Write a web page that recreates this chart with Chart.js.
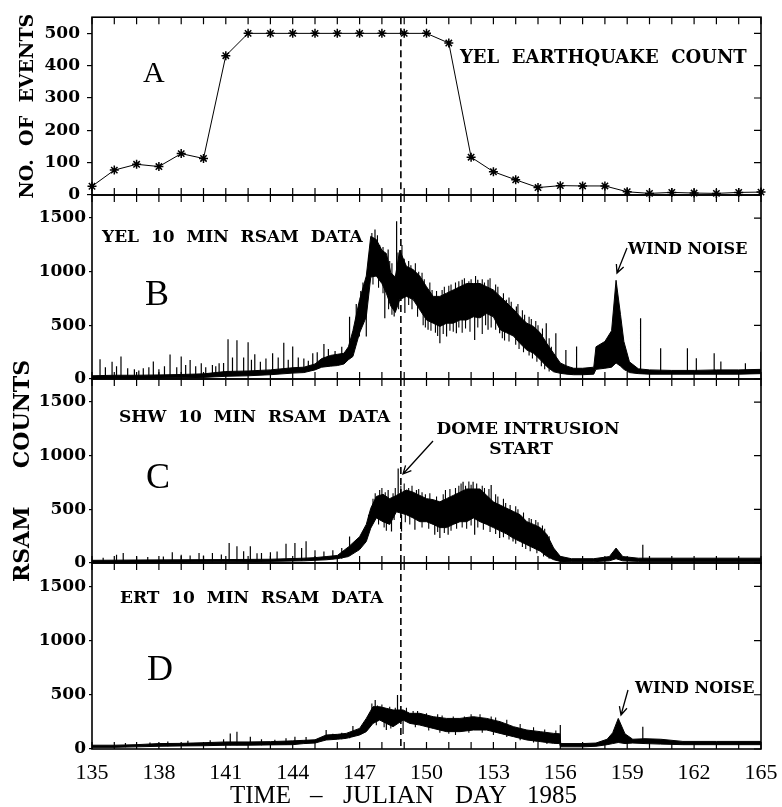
<!DOCTYPE html>
<html>
<head>
<meta charset="utf-8">
<title>YEL earthquake count and RSAM data, May-June 1985</title>
<script src="https://cdn.jsdelivr.net/npm/chart.js@4.4.0/dist/chart.umd.min.js"></script>
<style>
  body { margin: 0; background: #fff; }
  #wrap { position: relative; width: 782px; height: 807px; }
  #wrap canvas { position: absolute; left: 0; top: 0; }
</style>
</head>
<body>
<div id="wrap">
  <canvas id="panelA" width="782" height="807"></canvas>
  <canvas id="panelB" width="782" height="807"></canvas>
  <canvas id="panelC" width="782" height="807"></canvas>
  <canvas id="panelD" width="782" height="807"></canvas>
</div>
<script>
// julian day of the dome intrusion start (dashed line)
const DOME_START = 148.85;

const dayLabels = [135, 138, 141, 144, 147, 150, 153, 156, 159, 162, 165];
const countTicks = [0, 100, 200, 300, 400, 500];
const rsamTicks = [0, 500, 1000, 1500];

// A - YEL daily earthquake count
const countDays = [135, 136, 137, 138, 139, 140, 141, 142, 143, 144, 145, 146, 147, 148, 149, 150,
                   151, 152, 153, 154, 155, 156, 157, 158, 159, 160, 161, 162, 163, 164, 165];
const countValues = [27, 77, 95, 88, 128, 113, 431, 500, 500, 500, 500, 500, 500, 500, 500, 500,
                     470, 117, 72, 47, 23, 29, 28, 28, 10, 5, 8, 6, 5, 8, 9];

// B - YEL 10 min RSAM, read as a low / high band
const yelDays = [135, 136, 137, 138, 139, 140, 141, 142, 143, 144,
                 144.5, 145, 145.3, 145.7, 146, 146.3, 146.5, 146.7,
                 147, 147.3, 147.5, 147.75, 148, 148.2, 148.4, 148.6, 148.8,
                 149.1, 149.4, 149.7, 150, 150.3, 150.6, 150.9, 151.2, 151.5, 151.8,
                 152.1, 152.4, 152.7, 153, 153.3, 153.6, 153.9, 154.2, 154.5, 154.8,
                 155.1, 155.4, 155.7, 156, 156.3, 156.6, 157, 157.5,
                 157.6, 158, 158.3, 158.5, 158.7, 158.85, 159.1, 159.5,
                 160, 161, 162, 163, 164, 165];
const yelLow = [5, 8, 8, 10, 12, 15, 25, 30, 40, 55,
                60, 85, 110, 120, 125, 140, 180, 210,
                430, 580, 950, 960, 890, 800, 680, 620, 740,
                770, 740, 645, 550, 520, 490, 520, 520, 550, 550,
                580, 570, 610, 580, 460, 430, 400, 330, 270, 240,
                180, 115, 67, 53, 45, 40, 40, 45,
                90, 100, 110, 150, 120, 90, 60, 50,
                45, 45, 45, 45, 45, 50];
const yelHigh = [30, 35, 35, 38, 42, 48, 70, 75, 85, 105,
                 110, 140, 190, 220, 230, 240, 300, 450,
                 740, 960, 1330, 1300, 1200, 1170, 990, 950, 1200,
                 1050, 1020, 960, 860, 770, 770, 800, 830, 860, 890,
                 890, 890, 860, 830, 770, 710, 650, 580, 520, 490,
                 430, 330, 240, 150, 120, 100, 100, 110,
                 300, 350, 450, 920, 600, 350, 160, 95,
                 85, 80, 80, 85, 85, 90];
// single 10 min spikes: day, from, to
const yelSpikeDays = [135.36, 135.6, 135.9, 136.1, 136.3, 136.6, 136.9, 137.1, 137.3, 137.55,
                      137.75, 138.0, 138.25, 138.5, 138.8, 139.0, 139.2, 139.4, 139.65, 139.9,
                      140.1, 140.4, 140.55, 140.7, 140.9, 141.1, 141.3, 141.5, 141.8, 142.0,
                      142.15, 142.3, 142.55, 142.8, 143.1, 143.35, 143.6, 143.8, 144.0, 144.25,
                      144.5, 144.7, 144.9, 145.1, 145.4, 145.6, 145.9, 146.2, 146.55, 146.85,
                      147.69, 148.28, 148.66, 151.6, 152.3, 152.76, 153.58, 154.03, 155.37, 155.8,
                      146.99, 147.3, 148.13, 148.55, 149.03, 150.07, 150.6, 150.9, 151.34, 152.16,
                      152.76, 153.28, 153.88,
                      156.25, 156.73, 159.6, 160.5, 161.7, 162.1, 162.9, 163.2, 164.3, 165.0];
const yelSpikeLow = [15, 15, 18, 15, 18, 18, 18, 18, 20, 20,
                     20, 20, 22, 22, 22, 25, 25, 25, 25, 28,
                     28, 30, 30, 30, 35, 40, 40, 45, 45, 50,
                     50, 50, 50, 55, 55, 55, 60, 60, 70, 70,
                     80, 80, 90, 110, 150, 150, 160, 170, 250, 400,
                     1200, 1000, 900, 800, 850, 800, 650, 600, 300, 200,
                     396, 396, 567, 582, 614, 458, 333, 396, 427, 364,
                     458, 427, 430,
                     60, 50, 60, 55, 55, 55, 55, 55, 55, 60];
const yelSpikeHigh = [184, 110, 160, 120, 209, 100, 90, 80, 100, 110,
                      162, 90, 120, 228, 110, 209, 130, 178, 120, 147,
                      110, 131, 120, 147, 150, 371, 200, 362, 200, 343,
                      180, 230, 160, 190, 240, 200, 339, 180, 302, 200,
                      190, 170, 240, 250, 327, 280, 260, 300, 581, 700,
                      1393, 1206, 1470, 925, 925, 925, 738, 676, 520, 427,
                      600, 700, 900, 800, 800, 600, 550, 550, 600, 600,
                      650, 550, 500,
                      271, 303, 567, 287, 287, 193, 240, 162, 146, 255];
// ragged edge of the band: day, from, to
const yelFringeDays = [147.05, 147.15, 147.4, 147.55, 147.62, 147.8, 147.9, 148.05, 148.35, 148.45,
                       148.72, 148.9, 149.0, 149.2, 149.3, 149.5, 149.65, 149.8, 149.9, 150.15,
                       150.25, 150.45, 150.7, 150.8, 151.0, 151.1, 151.3, 151.45, 151.7, 151.9,
                       152.0, 152.2, 152.5, 152.6, 152.85, 153.1, 153.2, 153.45, 153.7, 153.8,
                       154.1, 154.3, 154.4, 154.6, 154.7, 154.9, 155.0, 155.2, 155.5, 155.6,
                       147.1, 147.6, 147.85, 148.05, 148.3, 148.45, 148.75, 149.2, 149.35, 149.6,
                       149.85, 149.95, 150.2, 150.4, 150.5, 150.75, 151.05, 151.2, 151.45, 151.6,
                       151.75, 151.95, 152.3, 152.5, 152.65, 152.9, 153.1, 153.4, 153.5, 153.7,
                       154.0, 154.15, 154.35, 154.6, 154.75, 154.95, 155.15, 155.3, 155.5];
const yelFringeLow = [650, 750, 900, 1200, 1150, 1200, 1100, 1100, 950, 900,
                      1000, 1050, 1000, 950, 950, 950, 900, 850, 800, 780,
                      720, 700, 720, 750, 780, 780, 800, 800, 830, 850,
                      850, 850, 850, 820, 800, 780, 760, 700, 650, 620,
                      560, 520, 500, 460, 450, 430, 400, 350, 250, 200,
                      500, 880, 850, 800, 650, 600, 650, 690, 650, 580,
                      500, 480, 450, 430, 400, 420, 450, 440, 480, 430,
                      470, 440, 480, 420, 500, 480, 460, 380, 360, 350,
                      320, 280, 250, 220, 190, 160, 120, 90, 70];
const yelFringeHigh = [820, 900, 1150, 1360, 1250, 1340, 1250, 1230, 1100, 1080,
                       1180, 1250, 1120, 1100, 1060, 1080, 1000, 990, 930, 900,
                       830, 820, 830, 860, 870, 880, 900, 910, 940, 910,
                       930, 960, 930, 900, 940, 880, 860, 800, 760, 720,
                       700, 640, 600, 580, 560, 540, 500, 470, 380, 300,
                       600, 1000, 1000, 920, 780, 720, 800, 800, 780, 700,
                       640, 600, 560, 540, 520, 540, 560, 560, 580, 580,
                       580, 600, 600, 600, 640, 600, 600, 480, 460, 440,
                       420, 360, 320, 280, 260, 250, 200, 150, 110];

// C - SHW 10 min RSAM
const shwDays = [135, 137, 139, 141, 143, 144.5, 145, 145.5, 146, 146.5,
                 147, 147.3, 147.5, 147.75, 148.05, 148.35, 148.65, 149.1, 149.4, 149.7,
                 150, 150.3, 150.6, 150.9, 151.2, 151.5, 151.8, 152.1, 152.4, 152.7,
                 153, 153.3, 153.6, 153.9, 154.2, 154.5, 154.8, 155.1, 155.4, 155.7,
                 156, 156.5, 157.5, 158.2, 158.5, 158.8, 159.5, 161, 163, 165];
const shwLow = [5, 8, 10, 12, 15, 20, 25, 30, 40, 60,
                125, 200, 325, 420, 385, 360, 477, 450, 420, 385,
                385, 360, 330, 330, 360, 385, 385, 420, 385, 360,
                330, 300, 270, 230, 200, 170, 140, 110, 62, 31,
                15, 12, 12, 20, 40, 20, 15, 15, 15, 15];
const shwHigh = [25, 28, 30, 32, 35, 45, 50, 60, 70, 150,
                 245, 360, 510, 620, 640, 600, 630, 680, 660, 630,
                 600, 590, 570, 600, 630, 660, 690, 690, 690, 630,
                 570, 540, 510, 480, 450, 385, 360, 330, 265, 140,
                 62, 40, 40, 60, 139, 60, 45, 45, 45, 45];
const shwSpikeDays = [135.5, 136.1, 136.4, 137.0, 137.5, 138.2, 138.6, 139.0, 139.4, 139.8,
                      140.0, 140.4, 140.8, 141.15, 141.5, 141.8, 142.1, 142.4, 142.6, 143.0,
                      143.3, 143.7, 144.1, 144.4, 144.6, 145.0, 145.4, 145.8, 146.2, 146.55,
                      148.28, 148.73, 149.55, 151.64, 152.09, 152.9,
                      148.43, 148.88, 149.48, 150.37, 150.6, 150.97, 152.16, 153.28, 153.88,
                      159.7];
const shwSpikeLow = [8, 10, 10, 10, 10, 10, 12, 12, 12, 12,
                     12, 14, 14, 14, 14, 14, 15, 15, 15, 15,
                     18, 18, 20, 20, 25, 25, 35, 35, 40, 70,
                     500, 500, 500, 550, 550, 500,
                     294, 294, 309, 263, 232, 263, 263, 232, 200,
                     20];
const shwSpikeHigh = [50, 77, 93, 60, 55, 60, 100, 77, 70, 93,
                      70, 93, 80, 186, 155, 110, 155, 90, 93, 100,
                      108, 180, 186, 140, 202, 120, 108, 120, 140, 248,
                      680, 881, 680, 757, 757, 726,
                      450, 450, 450, 400, 400, 400, 450, 400, 350,
                      170];
const shwFringeDays = [147.4, 147.6, 147.7, 147.9, 148.0, 148.15, 148.5, 148.6, 148.85, 149.0,
                       149.2, 149.35, 149.65, 149.8, 149.95, 150.15, 150.45, 150.75, 150.85, 151.05,
                       151.3, 151.45, 151.55, 151.75, 151.9, 152.0, 152.25, 152.5, 152.6, 152.8,
                       153.1, 153.2, 153.45, 153.55, 153.75, 154.0, 154.1, 154.35, 154.6, 154.7,
                       154.9, 155.0, 155.2, 155.3, 155.5,
                       147.6, 147.85, 148.1, 148.2, 148.55, 149.05, 149.25, 149.8, 150.1, 150.5,
                       150.8, 151.1, 151.35, 151.6, 151.8, 152.0, 152.3, 152.55, 152.85, 153.1,
                       153.45, 153.7, 154.0, 154.3, 154.45, 154.65, 154.95, 155.25, 155.5];
const shwFringeLow = [330, 500, 550, 580, 600, 560, 550, 600, 600, 620,
                      600, 600, 580, 560, 540, 540, 520, 520, 560, 580,
                      600, 620, 620, 620, 640, 620, 620, 620, 600, 580,
                      540, 520, 500, 460, 440, 420, 400, 380, 330, 320,
                      300, 290, 260, 230, 150,
                      380, 360, 330, 300, 400, 380, 360, 330, 320, 290,
                      280, 300, 320, 330, 320, 350, 330, 310, 290, 270,
                      240, 220, 180, 150, 130, 110, 90, 60, 40];
const shwFringeHigh = [450, 600, 650, 680, 700, 660, 650, 700, 720, 740,
                       700, 720, 690, 660, 640, 650, 620, 640, 680, 690,
                       700, 720, 740, 720, 760, 730, 740, 720, 700, 690,
                       640, 620, 600, 560, 540, 530, 500, 470, 420, 410,
                       400, 380, 350, 320, 250,
                       470, 450, 420, 400, 500, 480, 460, 420, 420, 380,
                       370, 400, 420, 420, 420, 450, 420, 400, 380, 360,
                       330, 300, 260, 230, 200, 180, 160, 130, 100];

// D - ERT 10 min RSAM
const ertDays = [135, 136, 137, 138, 139, 140, 141, 142, 143, 144,
                 144.5, 145, 145.5, 146, 146.4, 147, 147.3, 147.6, 147.9, 148.2,
                 148.5, 148.95, 149.25, 149.7, 150.3, 150.9, 151.5, 152.1, 152.7, 153.3,
                 153.9, 154.5, 155.1, 155.7, 155.98, 156.02, 157, 157.6, 158.1, 158.35,
                 158.6, 158.9, 159.25, 159.8, 160.5, 161.5, 163, 165];
const ertLow = [15, 15, 20, 25, 28, 30, 35, 35, 38, 40,
                50, 55, 83, 90, 98, 129, 160, 236, 267, 236,
                206, 267, 236, 221, 190, 160, 160, 175, 175, 144,
                114, 83, 68, 52, 50, 20, 20, 25, 40, 50,
                60, 50, 55, 50, 45, 40, 40, 40];
const ertHigh = [35, 35, 40, 50, 52, 58, 65, 65, 68, 75,
                 80, 85, 129, 135, 144, 190, 282, 390, 390, 375,
                 360, 360, 329, 329, 298, 282, 282, 298, 282, 252,
                 206, 175, 160, 144, 140, 50, 50, 55, 90, 150,
                 282, 140, 90, 95, 90, 70, 70, 70];
const ertSpikeDays = [136.5, 137.6, 138.4, 139.3, 140.3, 140.9, 141.2, 141.5, 142.1, 142.6,
                      143.2, 143.7, 144.1, 144.6, 145.5, 145.8, 146.2, 146.55, 146.7,
                      147.7, 148.7, 148.2, 148.95, 156.0, 159.7];
const ertSpikeLow = [15, 20, 25, 28, 30, 35, 35, 35, 38, 35,
                     38, 40, 40, 50, 90, 85, 90, 100, 110,
                     300, 250, 175, 138, 30, 50];
const ertSpikeHigh = [55, 60, 70, 75, 80, 90, 144, 160, 113, 90,
                      85, 98, 113, 110, 175, 140, 150, 144, 212,
                      451, 497, 300, 300, 221, 206];
const ertFringeDays = [147.45, 147.55, 147.8, 148.0, 148.35, 148.6, 149.1, 149.4, 149.6, 150.0,
                       150.5, 150.7, 151.2, 151.7, 152.0, 152.4, 152.9, 153.1, 153.6, 154.2,
                       154.8, 155.3, 155.8,
                       147.75, 148.1, 148.4, 149.5, 150.1, 150.6, 151.0, 151.3, 151.9, 152.5,
                       153.0, 153.6, 154.2, 154.8, 155.4];
const ertFringeLow = [250, 330, 330, 340, 320, 310, 310, 290, 290, 270,
                      260, 250, 240, 240, 260, 260, 240, 230, 210, 170,
                      140, 130, 120,
                      220, 200, 190, 200, 170, 150, 140, 130, 150, 150,
                      130, 110, 80, 60, 45];
const ertFringeHigh = [330, 420, 400, 410, 390, 380, 380, 350, 350, 330,
                       320, 310, 300, 300, 320, 320, 300, 290, 270, 230,
                       200, 180, 170,
                       300, 280, 260, 260, 230, 210, 200, 200, 210, 210,
                       190, 160, 130, 100, 90];

const SERIF = '"DejaVu Serif"';
const TIMES = '"Liberation Serif"';
const LABEL = 'bold 17px ' + SERIF;
const NOTE = 'bold 16px ' + SERIF;

// frame, inward ticks, dashed line and the hand lettering of each panel
function framePlugin(notes, arrows) {
  return {
    id: 'frame',
    beforeDatasetsDraw(chart) {
      const {ctx, chartArea: a, scales: {x}} = chart;
      const px = x.getPixelForValue(DOME_START);
      ctx.save();
      ctx.strokeStyle = '#000';
      ctx.lineWidth = 1.6;
      ctx.setLineDash([7, 4]);
      ctx.beginPath();
      ctx.moveTo(px, a.top);
      ctx.lineTo(px, a.bottom);
      ctx.stroke();
      ctx.restore();
    },
    afterDraw(chart) {
      const {ctx, chartArea: a, scales: {x, y}} = chart;
      ctx.save();
      ctx.strokeStyle = '#000';
      ctx.fillStyle = '#000';
      ctx.lineWidth = 1.6;
      ctx.strokeRect(a.left, a.top, a.right - a.left, a.bottom - a.top);
      ctx.lineWidth = 1.2;
      ctx.beginPath();
      for (let d = x.min; d <= x.max; d++) {
        const px = x.getPixelForValue(d);
        ctx.moveTo(px, a.top);
        ctx.lineTo(px, a.top + 7);
        ctx.moveTo(px, a.bottom);
        ctx.lineTo(px, a.bottom - 7);
      }
      y.ticks.forEach(t => {
        const py = y.getPixelForValue(t.value);
        ctx.moveTo(a.right, py);
        ctx.lineTo(a.right - 7, py);
      });
      ctx.stroke();

      notes.forEach(n => {
        ctx.font = n.font;
        ctx.textAlign = n.align || 'left';
        ctx.textBaseline = 'alphabetic';
        ctx.fillText(n.text, n.x, n.y);
      });

      ctx.lineWidth = 1.3;
      arrows.forEach(([x1, y1, x2, y2]) => {
        const ang = Math.atan2(y2 - y1, x2 - x1);
        ctx.beginPath();
        ctx.moveTo(x1, y1);
        ctx.lineTo(x2, y2);
        ctx.moveTo(x2 - 9 * Math.cos(ang - 0.45), y2 - 9 * Math.sin(ang - 0.45));
        ctx.lineTo(x2, y2);
        ctx.lineTo(x2 - 9 * Math.cos(ang + 0.45), y2 - 9 * Math.sin(ang + 0.45));
        ctx.stroke();
      });
      ctx.restore();
    }
  };
}

function yAxis(max, tickValues, labelPad, tickLen, title) {
  return {
    position: 'left',
    min: 0,
    max: max,
    afterBuildTicks(scale) { scale.ticks = tickValues.map(v => ({value: v})); },
    afterFit(scale) { scale.width = 92; },
    ticks: {
      padding: labelPad,
      color: '#000',
      font: {family: SERIF, weight: 'bold', size: 17},
      callback: value => String(value)
    },
    grid: {drawOnChartArea: false, drawTicks: true, tickLength: tickLen, color: '#000', lineWidth: 1.2},
    border: {display: false},
    title: title || {display: false}
  };
}

function xAxis(showLabels) {
  const axis = {type: 'linear', min: 135, max: 165, display: showLabels};
  if (showLabels) {
    axis.afterBuildTicks = scale => { scale.ticks = dayLabels.map(v => ({value: v})); };
    axis.afterFit = scale => {
      scale.height = 58;
      scale.paddingLeft = 0;
      scale.paddingRight = 0;
    };
    axis.grid = {display: false};
    axis.border = {display: false};
    axis.ticks = {
      autoSkip: false,
      maxRotation: 0,
      padding: 3,
      color: '#000',
      font: {family: TIMES, size: 22},
      callback: value => String(value)
    };
  }
  return axis;
}

function baseOptions(padding, x, y) {
  return {
    responsive: false,
    animation: false,
    devicePixelRatio: 1,
    layout: {padding: padding},
    plugins: {legend: {display: false}, tooltip: {enabled: false}},
    scales: {x: x, y: y}
  };
}

function hairlines(days, from, to) {
  const pts = [];
  days.forEach((d, i) => {
    pts.push({x: d, y: from[i]}, {x: d, y: to[i]}, {x: d, y: null});
  });
  return pts;
}

function bandDatasets(days, low, high, spikes, fringe) {
  return [
    {
      data: days.map((d, i) => ({x: d, y: low[i]})),
      borderColor: '#000', borderWidth: 1, pointRadius: 0, fill: false
    },
    {
      data: days.map((d, i) => ({x: d, y: high[i]})),
      borderColor: '#000', borderWidth: 1, pointRadius: 0, fill: '-1', backgroundColor: '#000'
    },
    {
      data: spikes,
      borderColor: '#000', borderWidth: 1.2, pointRadius: 0, fill: false, spanGaps: false
    },
    {
      data: fringe,
      borderColor: '#000', borderWidth: 1.1, pointRadius: 0, fill: false, spanGaps: false
    }
  ];
}

// A
new Chart(document.getElementById('panelA'), {
  type: 'line',
  data: {
    datasets: [{
      data: countDays.map((d, i) => ({x: d, y: countValues[i]})),
      borderColor: '#000',
      borderWidth: 1,
      pointStyle: 'star',
      pointRadius: 4.5,
      pointBorderWidth: 1.5,
      pointBorderColor: '#000',
      pointBackgroundColor: '#000',
      clip: 8
    }]
  },
  options: baseOptions({left: 0, top: 15, right: 21, bottom: 612}, xAxis(false),
    yAxis(550, countTicks, 7, 5, {
      display: true,
      text: 'NO.  OF  EVENTS',
      color: '#000',
      font: {family: SERIF, weight: 'bold', size: 19},
      padding: {top: 17, bottom: 0}
    })),
  plugins: [framePlugin([
    {text: 'A', font: '30px ' + TIMES, x: 143, y: 82},
    {text: 'YEL  EARTHQUAKE  COUNT', font: 'bold 18px ' + SERIF, x: 460, y: 63}
  ], [])]
});

// B
new Chart(document.getElementById('panelB'), {
  type: 'line',
  data: {datasets: bandDatasets(yelDays, yelLow, yelHigh,
    hairlines(yelSpikeDays, yelSpikeLow, yelSpikeHigh),
    hairlines(yelFringeDays, yelFringeLow, yelFringeHigh))},
  options: baseOptions({left: 0, top: 195, right: 21, bottom: 428}, xAxis(false), yAxis(1715, rsamTicks, 3, 3)),
  plugins: [framePlugin([
    {text: 'YEL  10  MIN  RSAM  DATA', font: LABEL, x: 102, y: 242},
    {text: 'B', font: '36px ' + TIMES, x: 145, y: 305},
    {text: 'WIND NOISE', font: NOTE, x: 628, y: 254}
  ], [[627, 248, 617, 273]])]
});

// C
new Chart(document.getElementById('panelC'), {
  type: 'line',
  data: {datasets: bandDatasets(shwDays, shwLow, shwHigh,
    hairlines(shwSpikeDays, shwSpikeLow, shwSpikeHigh),
    hairlines(shwFringeDays, shwFringeLow, shwFringeHigh))},
  options: baseOptions({left: 0, top: 379, right: 21, bottom: 244}, xAxis(false),
    yAxis(1715, rsamTicks, 3, 3, {
      display: true,
      text: 'RSAM     COUNTS',
      color: '#000',
      font: {family: SERIF, weight: 'bold', size: 22},
      padding: {top: 10, bottom: 0}
    })),
  plugins: [framePlugin([
    {text: 'SHW  10  MIN  RSAM  DATA', font: LABEL, x: 119, y: 422},
    {text: 'C', font: '36px ' + TIMES, x: 146, y: 488},
    {text: 'DOME INTRUSION', font: 'bold 17px ' + SERIF, x: 528, y: 434, align: 'center'},
    {text: 'START', font: 'bold 17px ' + SERIF, x: 521, y: 454, align: 'center'}
  ], [[433, 441, 403, 474]])]
});

// D
new Chart(document.getElementById('panelD'), {
  type: 'line',
  data: {datasets: bandDatasets(ertDays, ertLow, ertHigh,
    hairlines(ertSpikeDays, ertSpikeLow, ertSpikeHigh),
    hairlines(ertFringeDays, ertFringeLow, ertFringeHigh))},
  options: baseOptions({left: 0, top: 563, right: 21, bottom: 0}, xAxis(true), yAxis(1715, rsamTicks, 3, 3)),
  plugins: [framePlugin([
    {text: 'ERT  10  MIN  RSAM  DATA', font: LABEL, x: 120, y: 603},
    {text: 'D', font: '36px ' + TIMES, x: 147, y: 680},
    {text: 'WIND NOISE', font: NOTE, x: 635, y: 693},
    {text: 'TIME', font: '25px ' + TIMES, x: 230, y: 803},
    {text: '\u2013', font: '25px ' + TIMES, x: 310, y: 803},
    {text: 'JULIAN', font: '26px ' + TIMES, x: 343, y: 803},
    {text: 'DAY', font: '25px ' + TIMES, x: 455, y: 803},
    {text: '1985', font: '25px ' + TIMES, x: 527, y: 803}
  ], [[628, 690, 621, 715]])]
});
</script>
</body>
</html>
